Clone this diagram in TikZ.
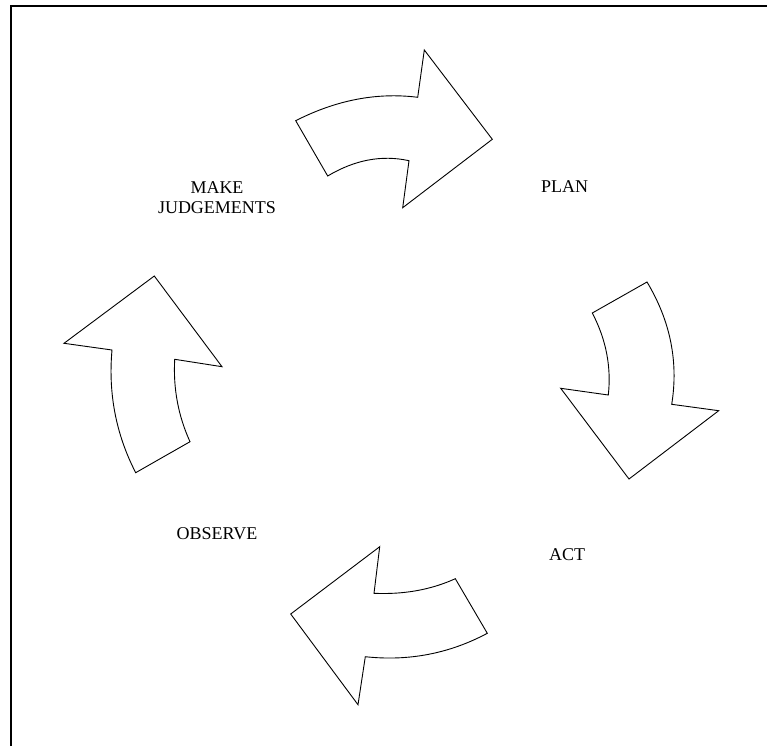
\documentclass[tikz,border=0pt]{standalone}
\usepackage{fontspec}
\setmainfont{Liberation Serif}
\begin{document}
\begin{tikzpicture}[x=1pt,y=-1pt,
  cyclearrow/.style={draw=black,line width=0.9pt,line join=miter,fill=white},
  lbl/.style={font=\fontsize{18}{20}\selectfont,align=center,inner sep=0pt,anchor=base}]
\useasboundingbox (0,0) rectangle (767,746);
% frame (top and left edges only)
\coordinate (f1) at (11,746);
\coordinate (f2) at (11,6);
\coordinate (f3) at (767,6);
\draw[line width=1.4pt] (f1) -- (f2) -- (f3);
% arrow top (to the right)
\draw[cyclearrow] (295.7,120.7) .. controls (336.4,100.0) and (377.0,92.2) .. (417.7,97.3)
  -- (424.3,50) -- (492.3,139.3) -- (402.7,207.7) -- (409,160.7)
  .. controls (381.9,154.7) and (354.8,159.8) .. (327.7,176) -- cycle;
% arrow right (downwards)
\draw[cyclearrow] (647,282) -- (592.3,313) .. controls (606.1,339.5) and (611.4,366.8) .. (608.3,395)
  -- (560.7,388.3) -- (629,479) -- (718.7,410.7) -- (671.7,404.3)
  .. controls (678.6,361.6) and (670.3,320.8) .. cycle;
% arrow bottom (to the left)
\draw[cyclearrow] (455.3,578.7) .. controls (430.9,589.8) and (403.8,594.6) .. (374,593.3)
  -- (379.7,546.7) -- (290.7,614) -- (358,704.7) -- (365.3,656.7)
  .. controls (408.6,661.4) and (449.3,653.6) .. (487.3,633.3) -- cycle;
% arrow left (upwards)
\draw[cyclearrow] (135.7,472.7) -- (190,441.7) .. controls (178.2,415.8) and (173.1,388.3) .. (174.7,359.3)
  -- (222,366.7) -- (154.3,276) -- (64,343.3) -- (112,350)
  .. controls (108.1,393.5) and (116,434.4) .. cycle;
% labels
\node[lbl] (make) at (217,193) {MAKE};
\node[lbl] (judge) at (217,213) {JUDGEMENTS};
\node[lbl] (plan) at (564.5,192) {PLAN};
\node[lbl] (observe) at (217,539) {OBSERVE};
\node[lbl] (act) at (567,560) {ACT};
\end{tikzpicture}
\end{document}
